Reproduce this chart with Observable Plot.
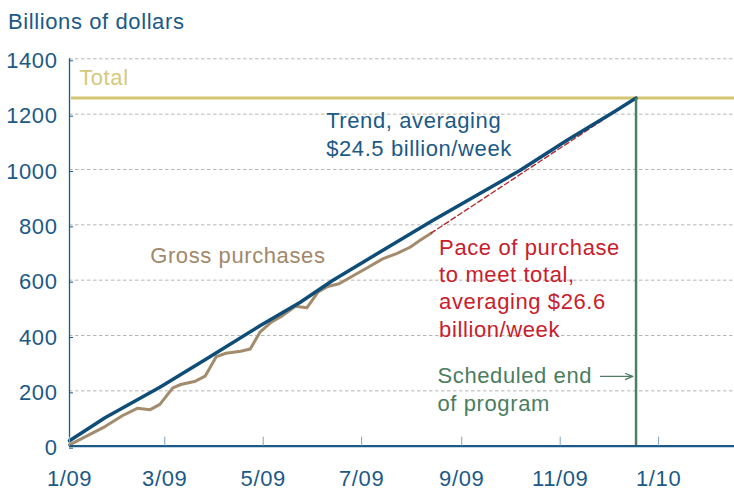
<!DOCTYPE html>
<html><head><meta charset="utf-8">
<script src="https://cdn.jsdelivr.net/npm/d3@7"></script>
<script src="https://cdn.jsdelivr.net/npm/@observablehq/plot@0.6"></script>
<style>
body{margin:0;background:#fff;font-family:"Liberation Sans",Arial,sans-serif;}
#title{height:40px;box-sizing:border-box;padding:11px 0 0 8px;font-size:22px;line-height:22px;color:#1b5a87;letter-spacing:0.6px;}
#chart svg{display:block;}
</style></head><body>
<div id="title">Billions of dollars</div>
<div id="chart"></div>
<script>
// ---- data ----
const grossDates = ["2009-01-01","2009-01-23","2009-02-03","2009-02-12","2009-02-20","2009-02-26","2009-03-06","2009-03-11","2009-03-20","2009-03-26","2009-04-02","2009-04-08","2009-04-17","2009-04-23","2009-04-29","2009-05-06","2009-05-13","2009-05-21","2009-05-28","2009-06-04","2009-06-10","2009-06-17","2009-06-26","2009-07-04","2009-07-14","2009-07-23","2009-07-31","2009-08-06","2009-08-13"];
const grossValues = [5,71,111,137,132,151,211,223,235,253,324,336,343,351,412,448,472,506,500,557,577,587,617,643,677,697,719,743,770];
const trendDates = ["2009-01-01","2009-01-23","2009-02-26","2009-03-27","2009-04-29","2009-05-24","2009-06-13","2009-08-14","2009-10-07","2009-11-05","2009-12-04","2009-12-18"];
const trendValues = [20,103,213,316,435,520,599,816,996,1105,1207,1258];
const paceDates = ["2009-08-13","2009-12-18"];
const paceValues = [770,1258];
const totalValue = 1258;
const scheduledEnd = "2009-12-18";
const xDomainDates = ["2009-01-01","2010-02-17"];
const yDomain = [0,1400];
const yTicks = [0,200,400,600,800,1000,1200,1400];
const xTickDates = ["2009-01-01","2009-03-01","2009-05-01","2009-07-01","2009-09-01","2009-11-01","2010-01-01"];
const xTickLabels = ["1/09","3/09","5/09","7/09","9/09","11/09","1/10"];
// annotations (anchor = start of text, baseline of last line)
const noteTexts = ["Total","Trend, averaging\n$24.5 billion/week","Gross purchases","Pace of purchase\nto meet total,\naveraging $26.6\nbillion/week","Scheduled end\nof program"];
const noteDates = ["2009-01-07","2009-06-09","2009-02-20","2009-08-18","2009-08-17"];
const noteValues = [1306,1050,661,396,129];
const noteColors = ["#d6c97c","#1b5a87","#a08868","#c8202b","#4a7d60"];
const arrowDates = ["2009-11-26","2009-12-16"];
const arrowValue = 252;

// ---- build ----
const P = s => new Date(s);
const gross = grossDates.map((d,i)=>({date:P(d), value:grossValues[i]}));
const trend = trendDates.map((d,i)=>({date:P(d), value:trendValues[i]}));
const pace = paceDates.map((d,i)=>({date:P(d), value:paceValues[i]}));
const labelMap = new Map(xTickDates.map((d,i)=>[+P(d), xTickLabels[i]]));
const notes = noteTexts.map((t,i)=>({text:t, date:P(noteDates[i]), value:noteValues[i], color:noteColors[i]}));
const arrowData = [{x1:P(arrowDates[0]), x2:P(arrowDates[1]), y:arrowValue}];

const axisBlue = "#1b5a87";
const marks = [
  Plot.gridY(yTicks.filter(v=>v>0), {stroke:"#b5b5b5", strokeOpacity:1, strokeDasharray:"3.5,2.5", strokeWidth:1}),
  Plot.ruleY([totalValue], {stroke:"#d3c571", strokeWidth:3, insetLeft:2}),
  Plot.line(gross, {x:"date", y:"value", stroke:"#a38b6d", strokeWidth:3}),
  Plot.line(pace, {x:"date", y:"value", stroke:"#b5282e", strokeWidth:1.4, strokeDasharray:"5,3"}),
  Plot.line(trend, {x:"date", y:"value", stroke:"#0e4d78", strokeWidth:3.5}),
  Plot.ruleX([P(scheduledEnd)], {y1:0, y2:totalValue, stroke:"#4f7e64", strokeWidth:2.5}),
  Plot.ruleY([0], {stroke:axisBlue, strokeWidth:2.3}),
  Plot.ruleX([P(xDomainDates[0])], {stroke:axisBlue, strokeWidth:1.3}),
  Plot.axisX(xTickDates.map(P), {tickSize:-9, tickPadding:33, stroke:"#7fa3c0", fill:axisBlue, fontSize:22, tickFormat:d=>labelMap.get(+d), label:null}),
  Plot.axisY(yTicks, {tickSize:-4, tickPadding:16, stroke:axisBlue, fill:axisBlue, fontSize:22, dy:2, tickFormat:d=>String(d), label:null}),
  Plot.arrow(arrowData, {x1:"x1", x2:"x2", y1:"y", y2:"y", stroke:"#4f7e64", strokeWidth:1.3, headLength:9, headAngle:45})
];
for (const n of notes) {
  marks.push(Plot.text([n], {x:"date", y:"value", text:"text", fill:n.color, textAnchor:"start", lineAnchor:"bottom", lineHeight:1.24, fontSize:22}));
}

const chart = Plot.plot({
  width:734, height:451,
  marginTop:18.3, marginBottom:45.3, marginLeft:69, marginRight:0,
  x:{type:"time", domain:xDomainDates.map(P)},
  y:{domain:yDomain},
  style:{fontFamily:"'Liberation Sans', Arial, sans-serif", fontSize:"22px", letterSpacing:"0.6px", background:"#fff"},
  marks
});
document.getElementById("chart").appendChild(chart);
</script>
</body></html>
